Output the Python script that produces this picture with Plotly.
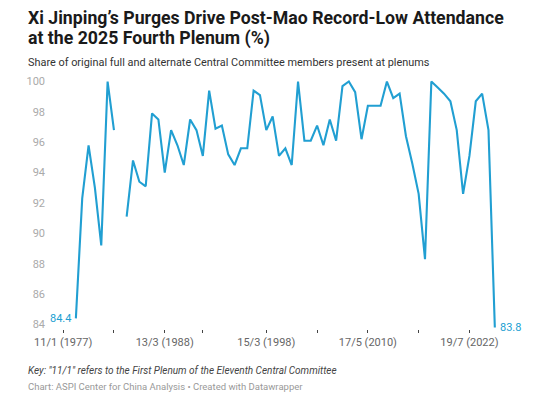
import plotly.graph_objects as go

# Plenums (CC / plenum number)
plenum_counts = {11: 7, 12: 7, 13: 9, 14: 7, 15: 7, 16: 7, 17: 7, 18: 7, 19: 7, 20: 4}
categories = [f"{cc}/{p}" for cc, n in plenum_counts.items() for p in range(1, n + 1)]

attendance = [
    None, None, 84.4, 92.3, 95.8, 93.0, 89.2,              # 11th CC
    100.0, 96.8, None, 91.1, 94.8, 93.4, 93.1,             # 12th CC
    97.9, 97.5, 94.0, 96.8, 95.8, 94.5, 97.5, 96.8, 95.1,  # 13th CC
    99.4, 96.9, 97.1, 95.2, 94.5, 95.6, 95.6,              # 14th CC
    99.4, 99.1, 96.8, 97.7, 95.1, 95.6, 94.5,              # 15th CC
    100.0, 96.1, 96.1, 97.1, 95.8, 97.5, 96.1,             # 16th CC
    99.7, 100.0, 99.3, 96.2, 98.4, 98.4, 98.4,             # 17th CC
    100.0, 98.9, 99.2, 96.4, 94.6, 92.6, 88.3,             # 18th CC
    100.0, 99.6, 99.2, 98.7, 96.8, 92.6, 95.1,             # 19th CC
    98.7, 99.2, 96.8, 83.8,                                # 20th CC
]

tick_cats = ["11/1", "12/2", "13/3", "13/9", "15/3", "16/4", "17/5", "18/6", "19/7"]
tick_text = ["11/1 (1977)", "", "13/3 (1988)", "", "15/3 (1998)", "", "17/5 (2010)", "", "19/7 (2022)"]
y_ticks = [84, 86, 88, 90, 92, 94, 96, 98, 100]

BLUE = "#219fd2"
OFF = 8                      # default page body margin
W, H = 540 - OFF, 397 - OFF
L, R, T, B = 52, 42, 72, 68
PW, PH = W - L - R, H - T - B

def px(x):  # page pixel -> paper
    return (x - OFF - L) / PW

def py(y):
    return (H - B - (y - OFF)) / PH

fig = go.Figure()
fig.add_trace(go.Scatter(
    x=categories, y=attendance, mode="lines",
    line=dict(color=BLUE, width=2.1), connectgaps=False,
    hoverinfo="skip", cliponaxis=False,
))

annotations = [
    dict(text="<b>Xi Jinping’s Purges Drive Post-Mao Record-Low Attendance</b>",
         x=px(26), y=py(18), font=dict(size=17.7, color="#1a1a1a")),
    dict(text="<b>at the 2025 Fourth Plenum (%)</b>",
         x=px(26), y=py(39), font=dict(size=17.7, color="#1a1a1a")),
    dict(text="Share of original full and alternate Central Committee members present at plenums",
         x=px(26), y=py(62), font=dict(size=10.9, color="#333333")),
    dict(text="<i>Key: \"11/1\" refers to the First Plenum of the Eleventh Central Committee</i>",
         x=px(26), y=py(371), font=dict(size=10, color="#444444")),
    dict(text="Chart: ASPI Center for China Analysis • Created with Datawrapper",
         x=px(26), y=py(386), font=dict(size=9.5, color="#999999")),
]
for a in annotations:
    a.update(xref="paper", yref="paper", xanchor="left", yanchor="middle",
             showarrow=False)

annotations += [
    dict(text="84.4", x=categories[2], y=84.4, xref="x", yref="y",
         xanchor="right", yanchor="middle", xshift=-3, showarrow=False,
         font=dict(size=11, color=BLUE)),
    dict(text="83.8", x=categories[-1], y=83.8, xref="x", yref="y",
         xanchor="left", yanchor="middle", xshift=3, showarrow=False,
         font=dict(size=11, color=BLUE)),
]

fig.update_layout(
    width=W, height=H,
    margin=dict(l=L, r=R, t=T, b=B),
    paper_bgcolor="white", plot_bgcolor="white",
    font=dict(family="Roboto, Arial, sans-serif"),
    showlegend=False,
    annotations=annotations,
    xaxis=dict(
        type="category", categoryorder="array", categoryarray=categories,
        range=[-0.5, len(categories) - 0.5],
        tickmode="array", tickvals=tick_cats, ticktext=tick_text,
        ticks="outside", ticklen=3, tickwidth=1, tickcolor="#444444",
        showgrid=False, showline=False, zeroline=False,
        tickfont=dict(size=11, color="#666666"),
    ),
    yaxis=dict(
        range=[83.7, 100.1],
        tickmode="array", tickvals=y_ticks,
        showgrid=False, showline=False, zeroline=False, ticks="",
        ticklabelstandoff=14,
        tickfont=dict(size=11, color="#aaaaaa"),
    ),
)

fig.write_html("out.html")
